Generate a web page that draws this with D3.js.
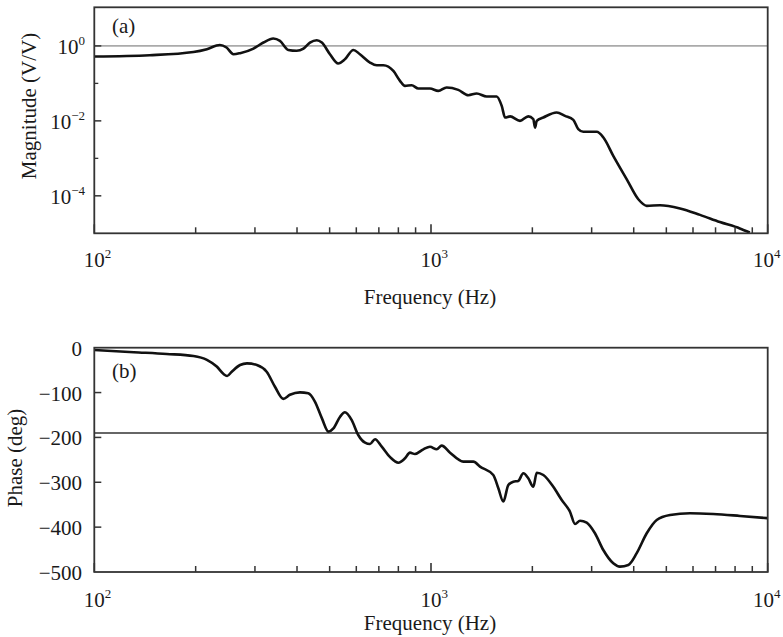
<!DOCTYPE html>
<html>
<head>
<meta charset="utf-8">
<script src="https://cdn.jsdelivr.net/npm/d3@7"></script>
<style>
  body { margin: 0; background: #fff; }
  text { font-family: "Liberation Serif", "Times New Roman", serif; fill: #1a1a1a; }
</style>
</head>
<body>
<svg id="chart" width="783" height="637"></svg>
<script>
// Frequency response: magnitude (V/V) and phase (deg) against frequency (Hz)
const magFreq = [100, 146, 197, 216, 236, 247, 259, 271, 297, 318, 340, 356, 377, 399, 418, 437, 458, 474,
  501, 530, 555, 588, 615, 659, 690, 722, 773, 809, 837, 876, 917, 993, 1051, 1113, 1205, 1291, 1367,
  1463, 1567, 1622, 1660, 1717, 1838, 1945, 2013, 2037, 2061, 2156, 2362, 2500, 2647, 2738, 2834, 3105,
  3251, 3478, 3811, 4128, 4372, 4787, 5490, 6295, 7211, 8264, 8850];
const magValue = [0.52, 0.565, 0.69, 0.82, 1.06, 0.905, 0.60, 0.64, 0.85, 1.23, 1.57, 1.36, 0.78, 0.74, 0.85,
  1.23, 1.42, 1.23, 0.60, 0.34, 0.44, 0.78, 0.60, 0.36, 0.305, 0.305, 0.215, 0.117, 0.0857, 0.0895, 0.073,
  0.073, 0.063, 0.0776, 0.067, 0.0484, 0.0537, 0.0447, 0.0447, 0.0251, 0.0123, 0.0132, 0.010, 0.0132,
  0.0111, 0.0066, 0.010, 0.0123, 0.0167, 0.0136, 0.0106, 0.0060, 0.0051, 0.0051, 0.0036, 0.00117,
  0.00028, 8.1e-5, 5.4e-5, 5.6e-5, 4.6e-5, 3.1e-5, 2.0e-5, 1.35e-5, 1.05e-5];

const phaseFreq = [100, 131, 164, 197, 216, 231, 242, 248, 256, 271, 284, 304, 325, 344, 364, 381, 408, 432,
  452, 474, 496, 513, 537, 555, 581, 608, 637, 659, 682, 714, 756, 800, 837, 866, 896, 949, 993, 1040,
  1076, 1139, 1247, 1336, 1398, 1531, 1585, 1640, 1697, 1756, 1816, 1880, 1945, 2013, 2061, 2156, 2308,
  2445, 2587, 2678, 2771, 2900, 3069, 3249, 3478, 3642, 3855, 4083, 4372, 4681, 5129, 5878, 6893, 8275, 10000];
const phaseValue = [-5, -10, -14, -18.5, -27, -42, -58.6, -63, -53.5, -38.6, -34.9, -38.6, -53.5, -87, -114,
  -105, -99.5, -101.7, -120, -157, -187, -180, -154, -144, -161, -194.6, -211.7, -214.7, -204, -220.7,
  -244, -256.3, -246.6, -234, -237, -226.5, -220.7, -226.5, -218.4, -234, -254, -254, -265, -283.8,
  -313.4, -343, -306, -298.7, -297, -280, -291, -310, -278.6, -283.8, -310, -339.5, -365.6, -393, -385.6,
  -390, -413.7, -451, -480.6, -488, -484.4, -458, -413.7, -384, -373, -369, -370.7, -375, -380];

const freqDecades = [100, 1000, 10000];
const magMajorTicks = [1, 1e-2, 1e-4];
const magMinorTicks = [1e-1, 1e-3];
const phaseTicks = [0, -100, -200, -300, -400, -500];
const unityGain = 1;
const phaseReference = -190;

const svg = d3.select("#chart");
const X0 = 94.3, X1 = 767.7;
const magTop = 7.3, magBottom = 233.3;
const phTop = 347.7, phBottom = 572;

const x = d3.scaleLog().domain([100, 10000]).range([X0, X1]);
const yMag = d3.scaleLog().domain([1e-5, Math.pow(10, 1.03)]).range([magBottom, magTop]);
const yPh = d3.scaleLinear().domain([-500, 0]).range([phBottom, phTop]);

const frameColor = "#333";
const minorFreq = x.ticks().filter(f => !freqDecades.includes(f));

// clip paths for the two plot areas
const defs = svg.append("defs");
defs.append("clipPath").attr("id", "clipMag").append("rect")
  .attr("x", X0).attr("y", magTop).attr("width", X1 - X0).attr("height", magBottom - magTop);
defs.append("clipPath").attr("id", "clipPh").append("rect")
  .attr("x", X0).attr("y", phTop).attr("width", X1 - X0).attr("height", phBottom - phTop);

function freqTicks(bottom) {
  const g = svg.append("g");
  g.selectAll("line.minor").data(minorFreq).join("line").attr("class", "minor")
    .attr("x1", d => x(d)).attr("x2", d => x(d))
    .attr("y1", bottom).attr("y2", bottom - 6)
    .attr("stroke", frameColor).attr("stroke-width", 1.5);
  g.selectAll("line.major").data(freqDecades).join("line").attr("class", "major")
    .attr("x1", d => x(d)).attr("x2", d => x(d))
    .attr("y1", bottom).attr("y2", bottom - 9)
    .attr("stroke", frameColor).attr("stroke-width", 1.6);
}

function decadeLabel(parent, xpos, ypos, exp, anchor) {
  const t = parent.append("text").attr("x", xpos).attr("y", ypos)
    .attr("text-anchor", anchor).attr("font-size", 21);
  t.append("tspan").text("10");
  t.append("tspan").attr("dy", -9).attr("font-size", 13).text(String(exp).replace("-", "\u2212"));
  return t;
}

function freqLabels(baseline) {
  const g = svg.append("g");
  freqDecades.forEach(f => {
    decadeLabel(g, Math.min(x(f) - 10.5, 753), baseline, Math.round(Math.log10(f)), "start");
  });
}

// ---------- (a) magnitude ----------
svg.append("line")
  .attr("x1", X0).attr("x2", X1).attr("y1", yMag(unityGain)).attr("y2", yMag(unityGain))
  .attr("stroke", "#aaa").attr("stroke-width", 1.6);

const magData = magFreq.map((f, i) => [f, magValue[i]]);
svg.append("path").datum(magData)
  .attr("clip-path", "url(#clipMag)")
  .attr("fill", "none").attr("stroke", "#111").attr("stroke-width", 2.6)
  .attr("stroke-linejoin", "round")
  .attr("d", d3.line().x(d => x(d[0])).y(d => yMag(d[1])).curve(d3.curveMonotoneX));

svg.append("g").selectAll("line").data(magMajorTicks).join("line")
  .attr("x1", X0).attr("x2", X0 + 7).attr("y1", d => yMag(d)).attr("y2", d => yMag(d))
  .attr("stroke", frameColor).attr("stroke-width", 1.5);
svg.append("g").selectAll("line").data(magMinorTicks).join("line")
  .attr("x1", X0).attr("x2", X0 + 4).attr("y1", d => yMag(d)).attr("y2", d => yMag(d))
  .attr("stroke", frameColor).attr("stroke-width", 1.3);
freqTicks(magBottom);

svg.append("rect").attr("x", X0).attr("y", magTop).attr("width", X1 - X0).attr("height", magBottom - magTop)
  .attr("fill", "none").attr("stroke", frameColor).attr("stroke-width", 1.8);

const magLab = svg.append("g");
magMajorTicks.forEach(v => decadeLabel(magLab, 85, yMag(v) + 8, Math.round(Math.log10(v)), "end"));
freqLabels(267);

svg.append("text").attr("x", 112).attr("y", 33).attr("font-size", 21).text("(a)");
svg.append("text").attr("x", 430).attr("y", 304).attr("text-anchor", "middle").attr("font-size", 21)
  .text("Frequency (Hz)");
svg.append("text").attr("transform", "translate(36,106) rotate(-90)").attr("text-anchor", "middle")
  .attr("font-size", 21).text("Magnitude (V/V)");

// ---------- (b) phase ----------
svg.append("line")
  .attr("x1", X0).attr("x2", X1).attr("y1", yPh(phaseReference)).attr("y2", yPh(phaseReference))
  .attr("stroke", "#333").attr("stroke-width", 1.6);

const phData = phaseFreq.map((f, i) => [f, phaseValue[i]]);
svg.append("path").datum(phData)
  .attr("clip-path", "url(#clipPh)")
  .attr("fill", "none").attr("stroke", "#111").attr("stroke-width", 2.6)
  .attr("stroke-linejoin", "round")
  .attr("d", d3.line().x(d => x(d[0])).y(d => yPh(d[1])).curve(d3.curveMonotoneX));

svg.append("g").selectAll("line").data(phaseTicks.slice(1, -1)).join("line")
  .attr("x1", X0).attr("x2", X0 + 7).attr("y1", d => yPh(d)).attr("y2", d => yPh(d))
  .attr("stroke", frameColor).attr("stroke-width", 1.5);
freqTicks(phBottom);

svg.append("rect").attr("x", X0).attr("y", phTop).attr("width", X1 - X0).attr("height", phBottom - phTop)
  .attr("fill", "none").attr("stroke", frameColor).attr("stroke-width", 1.8);

svg.append("g").selectAll("text").data(phaseTicks).join("text")
  .attr("x", 82).attr("y", d => yPh(d) + 8).attr("text-anchor", "end").attr("font-size", 21)
  .text(d => String(d).replace("-", "\u2212"));
freqLabels(607);

svg.append("text").attr("x", 112).attr("y", 378).attr("font-size", 21).text("(b)");
svg.append("text").attr("x", 430).attr("y", 630).attr("text-anchor", "middle").attr("font-size", 21)
  .text("Frequency (Hz)");
svg.append("text").attr("transform", "translate(22,458) rotate(-90)").attr("text-anchor", "middle")
  .attr("font-size", 21).text("Phase (deg)");
</script>
</body>
</html>
